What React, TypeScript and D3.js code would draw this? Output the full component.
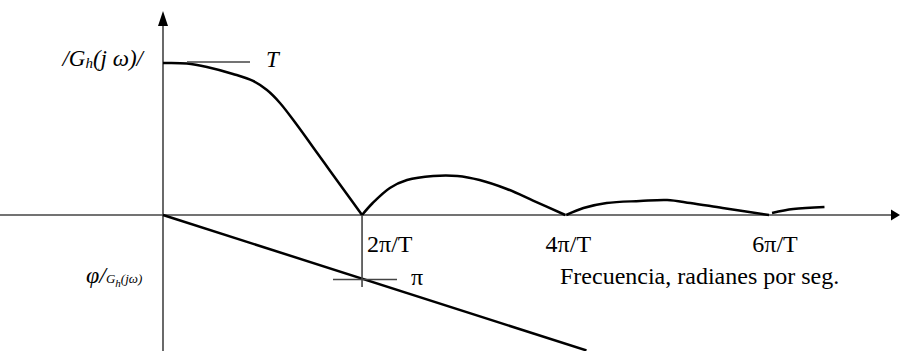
import * as d3 from 'd3';

// frequency in units of π/T, magnitude relative to T
const lobe1 = [
  [0, 1.0], [0.238, 0.997], [0.436, 0.974], [0.694, 0.928], [0.893, 0.882], [1.031, 0.822],
  [1.16, 0.737], [1.329, 0.592], [1.488, 0.446], [1.656, 0.291], [1.825, 0.137], [1.974, 0],
];
const lobe2 = [
  [1.974, 0], [2.08, 0.079], [2.25, 0.178], [2.42, 0.23], [2.68, 0.257], [2.92, 0.257],
  [3.14, 0.23], [3.41, 0.171], [3.67, 0.095], [3.99, 0],
];
const lobe3 = [
  [4.0, 0], [4.17, 0.046], [4.4, 0.079], [4.73, 0.092], [5.0, 0.099], [5.23, 0.079],
  [5.55, 0.046], [6.01, 0],
];
const lobe4 = [[6.04, 0.013], [6.25, 0.039], [6.56, 0.053]];

// phase in units of π
const phase = [[0, 0], [4.2, -2.1]];

const tickValues = [1.974, 4, 6];
const tickLabels = ['2π/T', '4π/T', '6π/T'];

const W = 900;
const H = 351;
const serif = 'Liberation Serif, Times New Roman, serif';

export default function App() {
  const x = d3.scaleLinear().domain([0, 6]).range([163, 768]);
  const yMag = d3.scaleLinear().domain([0, 1]).range([215, 63]);
  const yPh = d3.scaleLinear().domain([0, -1]).range([215, 279.5]);

  const magLine = d3
    .line()
    .x((d) => x(d[0]))
    .y((d) => yMag(d[1]))
    .curve(d3.curveCatmullRom.alpha(0.5));

  const phLine = d3
    .line()
    .x((d) => x(d[0]))
    .y((d) => yPh(d[1]));

  const x0 = x(0);
  const y0 = yMag(0);
  const axisColor = '#444';

  return (
    <svg
      width={W}
      height={H}
      style={{ position: 'absolute', left: 0, top: 0, background: '#fff' }}
      fontFamily={serif}
    >
      {/* axes */}
      <line x1={0} x2={893} y1={y0} y2={y0} stroke={axisColor} strokeWidth={1.6} />
      <path d={`M${W},${y0} L891,${y0 - 5.5} L891,${y0 + 5.5} Z`} fill="#000" />
      <line x1={x0} x2={x0} y1={H} y2={24} stroke={axisColor} strokeWidth={1.6} />
      <path d={`M${x0},11 L${x0 - 5},26 L${x0 + 5},26 Z`} fill="#000" />

      {/* magnitude lobes */}
      {[lobe1, lobe2, lobe3, lobe4].map((lobe, i) => (
        <path key={i} d={magLine(lobe)} fill="none" stroke="#000" strokeWidth={2.5} />
      ))}

      {/* phase */}
      <path d={phLine(phase)} fill="none" stroke="#000" strokeWidth={2.5} />

      {/* marker T */}
      <line x1={187} x2={250} y1={yMag(1) - 1} y2={yMag(1) - 1} stroke={axisColor} strokeWidth={1.3} />
      <text x={266} y={67} fontSize={23} fontStyle="italic">T</text>

      {/* 2π/T tick and π marker */}
      <line x1={x(tickValues[0])} x2={x(tickValues[0])} y1={y0} y2={287} stroke={axisColor} strokeWidth={1.6} />
      <line x1={333} x2={397} y1={yPh(-1)} y2={yPh(-1)} stroke={axisColor} strokeWidth={1.3} />
      <text x={411} y={285} fontSize={24}>π</text>

      {/* tick labels */}
      {tickLabels.map((t, i) => (
        <text
          key={t}
          x={i === 0 ? x(tickValues[i]) + 5 : x(tickValues[i]) + [0, 2, 7][i]}
          y={252}
          fontSize={24}
          textAnchor={i === 0 ? 'start' : 'middle'}
        >
          {t}
        </text>
      ))}

      <text x={560} y={284} fontSize={24}>Frecuencia, radianes por seg.</text>

      {/* y labels */}
      <text x={143} y={66} fontSize={23} fontStyle="italic" textAnchor="end">
        /G<tspan fontSize={15} dy={2}>h</tspan>
        <tspan dy={-2}>(j ω)/</tspan>
      </text>
      <text x={86} y={283} fontSize={24} fontStyle="italic">
        φ/
        <tspan fontSize={13} dy={0}>G</tspan>
        <tspan fontSize={11} dy={4}>h</tspan>
        <tspan fontSize={13} dy={-4}>(jω)</tspan>
      </text>
    </svg>
  );
}
